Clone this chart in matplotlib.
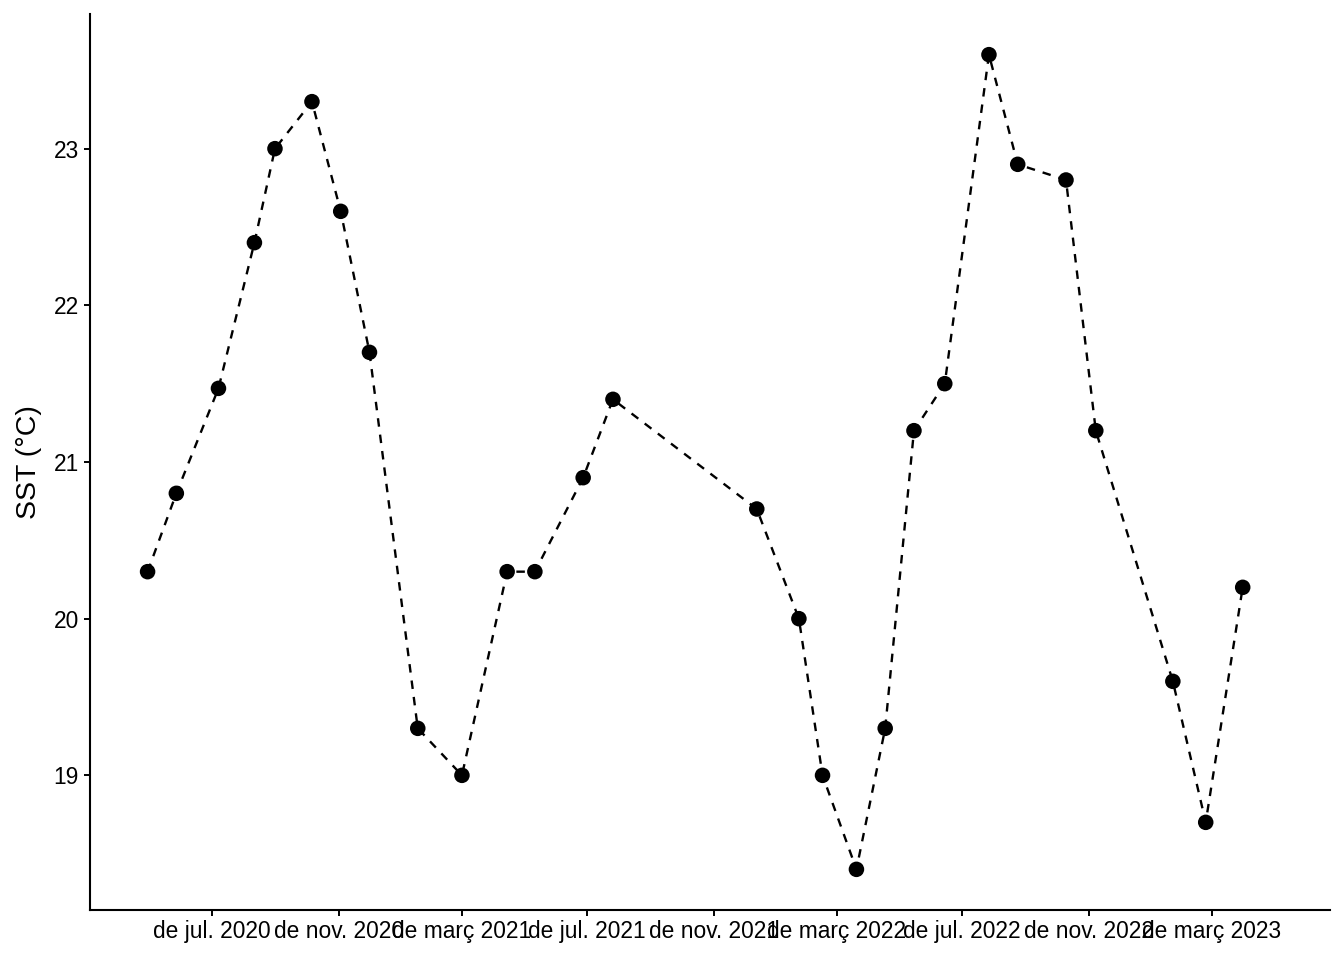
import pandas as pd
import numpy as np
import matplotlib
matplotlib.use('Agg')
import matplotlib.pyplot as plt
import matplotlib.dates as mdates

plt.rcParams['font.family'] = ['Liberation Sans', 'DejaVu Sans']

dates = ['2020-04-29', '2020-05-27', '2020-07-07', '2020-08-11', '2020-08-31',
         '2020-10-06', '2020-11-03', '2020-12-01', '2021-01-17', '2021-03-01',
         '2021-04-14', '2021-05-11', '2021-06-27', '2021-07-26', '2021-12-13',
         '2022-01-23', '2022-02-15', '2022-03-20', '2022-04-17', '2022-05-15',
         '2022-06-14', '2022-07-27', '2022-08-24', '2022-10-10', '2022-11-08',
         '2023-01-22', '2023-02-23', '2023-03-31']
sst = [20.3, 20.8, 21.47, 22.4, 23.0,
       23.3, 22.6, 21.7, 19.3, 19.0,
       20.3, 20.3, 20.9, 21.4, 20.7,
       20.0, 19.0, 18.4, 19.3, 21.2,
       21.5, 23.6, 22.9, 22.8, 21.2,
       19.6, 18.7, 20.2]

tick_dates = ['2020-07-01', '2020-11-01', '2021-03-01', '2021-07-01', '2021-11-01',
              '2022-03-01', '2022-07-01', '2022-11-01', '2023-03-01']
tick_labels = ['de jul. 2020', 'de nov. 2020', 'de març 2021', 'de jul. 2021',
               'de nov. 2021', 'de març 2022', 'de jul. 2022', 'de nov. 2022',
               'de març 2023']
y_ticks = [19, 20, 21, 22, 23]

x = pd.to_datetime(dates)

fig = plt.figure(figsize=(13.44, 9.6), dpi=100)
ax = fig.add_axes([0.067, 0.052, 0.9226, 0.9335])

ax.plot(x, sst, color='black', lw=1.7, ls=(0, (3.6, 3.4)), zorder=1)
ax.scatter(x, sst, s=125, color='black', zorder=2, edgecolors='none')

ax.set_xlim(pd.Timestamp('2020-03-04'), pd.Timestamp('2023-06-24'))
ax.set_ylim(18.14, 23.86)
ax.set_xticks(pd.to_datetime(tick_dates))
ax.set_xticklabels(tick_labels)
ax.set_yticks(y_ticks)

ax.tick_params(axis='both', labelsize=16.4, length=4.5, width=1.4,
               color='black', labelcolor='black')
ax.tick_params(axis='x', pad=3)
ax.set_ylabel('SST (°C)', fontsize=20.5, labelpad=8)

for s in ['top', 'right']:
    ax.spines[s].set_visible(False)
for s in ['left', 'bottom']:
    ax.spines[s].set_linewidth(1.5)

fig.savefig('out.png', dpi=100)
